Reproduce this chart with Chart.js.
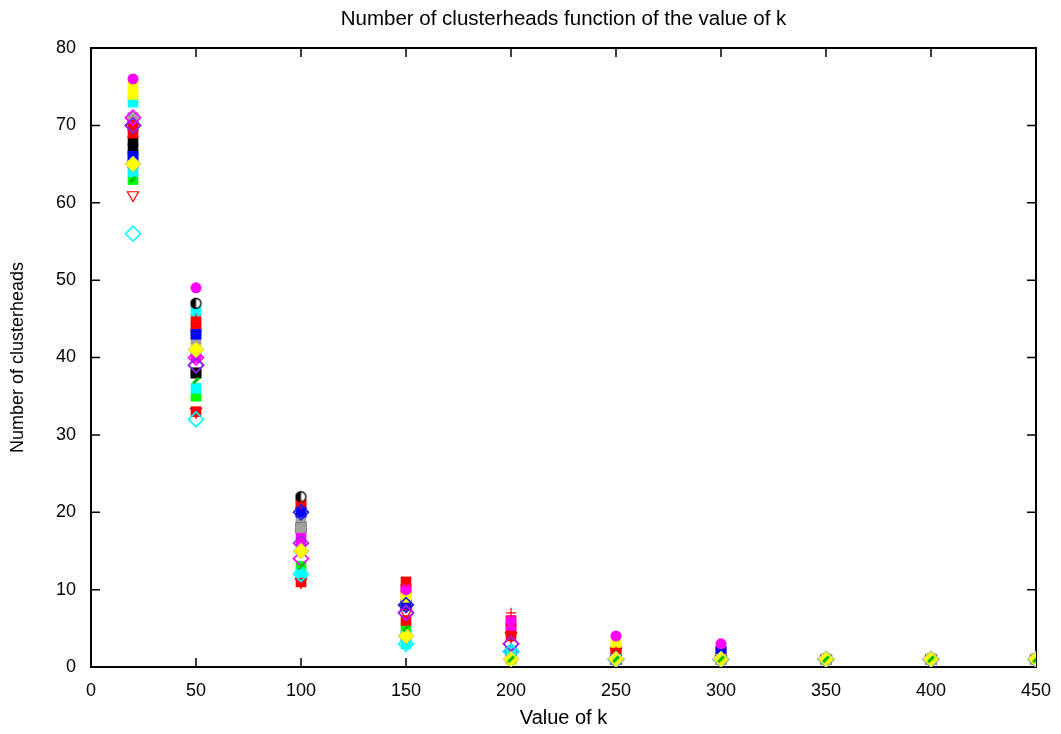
<!DOCTYPE html>
<html>
<head>
<meta charset="utf-8">
<script src="https://cdn.jsdelivr.net/npm/chart.js@4.4.1/dist/chart.umd.min.js"></script>
<style>
    html, body { margin: 0; padding: 0; background: #fff; }
</style>
</head>
<body>
<canvas id="myChart" width="1061" height="734"></canvas>
<script>
// Values of k (x axis) and tick values
const kValues = [20, 50, 100, 150, 200, 250, 300, 350, 400, 450];
const xTickValues = [0, 50, 100, 150, 200, 250, 300, 350, 400, 450];
const yTickValues = [0, 10, 20, 30, 40, 50, 60, 70, 80];

// Number of clusterheads per run, one value per k
const redSq1        = [70, 45, 21, 11, 5, 2, 2, 1, 1, 1];
const greenSq1      = [63, 35, 13, 5, 1, 1, 1, 1, 1, 1];
const blueSq1       = [66, 43, 20, 8, 2, 1, 2, 1, 1, 1];
const magentaSq1    = [71, 40, 17, 10, 5, 1, 1, 1, 1, 1];
const cyanSq1       = [73, 36, 12, 4, 2, 1, 1, 1, 1, 1];
const yellowSq1     = [75, 42, 15, 9, 1, 3, 1, 1, 1, 1];
const blackSq1      = [68, 38, 18, 8, 2, 1, 1, 1, 1, 1];
const graySq1       = [65, 42, 19, 8, 2, 1, 1, 1, 1, 1];
const redSq2        = [69, 33, 11, 6, 4, 2, 1, 1, 1, 1];
const blackSq2      = [67, 38, 18, 8, 2, 1, 1, 1, 1, 1];
const graySq2       = [71, 44, 18, 8, 2, 1, 1, 1, 1, 1];
const redSq3        = [70, 44, 21, 10, 6, 2, 1, 1, 1, 1];
const blueSq2       = [66, 43, 20, 8, 2, 1, 2, 1, 1, 1];
const cyanSq2       = [64, 46, 12, 3, 2, 1, 1, 1, 1, 1];
const yellowSq2     = [74, 41, 15, 9, 1, 3, 1, 1, 1, 1];
const magentaCircle = [76, 49, 16, 10, 6, 4, 3, 1, 1, 1];
const blackHalf     = [65, 47, 22, 4, 1, 1, 1, 1, 1, 1];
const redPlus       = [70, 45, 21, 11, 7, 2, 1, 1, 1, 1];
const redTriDown    = [61, 33, 11, 7, 4, 2, 1, 1, 1, 1];
const blueDiamond   = [70, 39, 20, 8, 2, 1, 1, 1, 1, 1];
const magentaDiam   = [71, 40, 14, 7, 3, 1, 1, 1, 1, 1];
const purpleDiam    = [70, 39, 16, 7, 3, 1, 1, 1, 1, 1];
const cyanDiamond   = [56, 32, 12, 3, 2, 1, 1, 1, 1, 1];
const yellowDiam    = [65, 41, 15, 4, 1, 1, 1, 1, 1, 1];
const greenStripe   = [63, 37, 13, 5, 1, 1, 1, 1, 1, 1];

// half filled black circle marker
function halfCircle() {
    const c = document.createElement('canvas');
    c.width = 13; c.height = 13;
    const g = c.getContext('2d');
    g.beginPath(); g.arc(6.5, 6.5, 5.5, 0, 2 * Math.PI); g.fillStyle = '#fff'; g.fill();
    g.beginPath(); g.arc(6.5, 6.5, 5.5, Math.PI / 2, 3 * Math.PI / 2); g.fillStyle = '#000'; g.fill();
    g.beginPath(); g.arc(6.5, 6.5, 5, 0, 2 * Math.PI); g.lineWidth = 1.3; g.strokeStyle = '#000'; g.stroke();
    return c;
}

function makeSet(values, color, style, opts) {
    return Object.assign({
        data: kValues.map((k, i) => ({ x: k, y: values[i] })),
        pointStyle: style,
        backgroundColor: color,
        borderColor: color,
        borderWidth: 0,
        pointRadius: 7,
        showLine: false
    }, opts || {});
}

const sq = { pointRadius: 7.5, borderWidth: 0 };
const diam = { pointRadius: 7.5, borderWidth: 1.6, backgroundColor: 'rgba(0,0,0,0)' };

// listed bottom to top (gnuplot plot order)
const datasets = [
    makeSet(redSq1, '#ff0000', 'rect', sq),
    makeSet(greenSq1, '#00ff00', 'rect', sq),
    makeSet(blueSq1, '#0000ff', 'rect', sq),
    makeSet(magentaSq1, '#ff00ff', 'rect', sq),
    makeSet(cyanSq1, '#00ffff', 'rect', sq),
    makeSet(yellowSq1, '#ffff00', 'rect', sq),
    makeSet(blackSq1, '#000000', 'rect', sq),
    makeSet(graySq1, '#a0a0a0', 'rect', sq),
    makeSet(redSq2, '#ff0000', 'rect', sq),
    makeSet(blackSq2, '#000000', 'rect', sq),
    makeSet(graySq2, '#a0a0a0', 'rect', sq),
    makeSet(redSq3, '#ff0000', 'rect', sq),
    makeSet(blueSq2, '#0000ff', 'rect', sq),
    makeSet(cyanSq2, '#00ffff', 'rect', sq),
    makeSet(yellowSq2, '#ffff00', 'rect', sq),
    makeSet(magentaCircle, '#ff00ff', 'circle', { pointRadius: 5.5 }),
    makeSet(blackHalf, '#000000', halfCircle()),
    makeSet(redPlus, '#ff0000', 'cross', { pointRadius: 5, borderWidth: 1.2 }),
    makeSet(redTriDown, '#ff0000', 'triangle', { pointRadius: 6.5, borderWidth: 1.2, rotation: 180, backgroundColor: 'rgba(0,0,0,0)' }),
    makeSet(blueDiamond, '#2020e0', 'rectRot', diam),
    makeSet(magentaDiam, '#ff00ff', 'rectRot', diam),
    makeSet(purpleDiam, '#a020f0', 'rectRot', diam),
    makeSet(cyanDiamond, '#00ffff', 'rectRot', diam),
    makeSet(yellowDiam, '#ffff00', 'rectRot', { pointRadius: 8, borderWidth: 1, borderColor: '#c8c870' }),
    makeSet(greenStripe, '#00c000', 'line', { pointRadius: 4, borderWidth: 3, rotation: -45 })
];

// gnuplot style frame with inward ticks on all sides
const frame = {
    id: 'frame',
    beforeDatasetsDraw(chart) {
        const { ctx, chartArea: a, scales } = chart;
        const len = 9;
        ctx.save();
        ctx.strokeStyle = '#000';
        ctx.lineWidth = 2;
        ctx.strokeRect(a.left, a.top, a.right - a.left, a.bottom - a.top);
        ctx.lineWidth = 1.5;
        ctx.beginPath();
        xTickValues.forEach(v => {
            const x = scales.x.getPixelForValue(v);
            ctx.moveTo(x, a.bottom); ctx.lineTo(x, a.bottom - len);
            ctx.moveTo(x, a.top); ctx.lineTo(x, a.top + len);
        });
        yTickValues.forEach(v => {
            const y = scales.y.getPixelForValue(v);
            ctx.moveTo(a.left, y); ctx.lineTo(a.left + len, y);
            ctx.moveTo(a.right, y); ctx.lineTo(a.right - len, y);
        });
        ctx.stroke();
        ctx.restore();
    }
};

const family = '"Liberation Sans", Arial, sans-serif';
const font = { family: family, size: 18 };
const bigFont = { family: family, size: 20.5, weight: 'normal' };
Chart.defaults.color = '#000';

let ctx = document.getElementById('myChart').getContext('2d');
let myChart = new Chart(ctx, {
    type: 'scatter',
    // Chart.js paints the first dataset last, so reverse to keep gnuplot stacking
    data: { datasets: datasets.slice().reverse() },
    plugins: [frame],
    options: {
        responsive: false,
        animation: false,
        events: [],
        layout: { padding: { left: 0, right: 25, top: 0, bottom: 0 } },
        plugins: {
            legend: { display: false },
            tooltip: { enabled: false },
            title: {
                display: true,
                fullSize: false,
                text: 'Number of clusterheads function of the value of k',
                font: bigFont,
                color: '#000',
                padding: { top: 7, bottom: 16.4 }
            }
        },
        scales: {
            x: {
                type: 'linear',
                min: 0,
                max: 450,
                afterBuildTicks: s => { s.ticks = xTickValues.map(v => ({ value: v })); },
                afterFit: s => { s.height = 67; },
                ticks: { font: font, color: '#000', padding: 5, maxRotation: 0 },
                grid: { display: false },
                border: { display: false },
                title: { display: true, text: 'Value of k', font: { family: family, size: 20 }, color: '#000', padding: { top: 0, bottom: 4 } }
            },
            y: {
                type: 'linear',
                min: 0,
                max: 80,
                afterBuildTicks: s => { s.ticks = yTickValues.map(v => ({ value: v })); },
                afterFit: s => { s.width = 91; },
                ticks: { font: font, color: '#000', padding: 7 },
                grid: { display: false },
                border: { display: false },
                title: { display: true, text: 'Number of clusterheads', font: font, color: '#000', padding: { top: 7, bottom: 0 } }
            }
        }
    }
});
</script>
</body>
</html>
